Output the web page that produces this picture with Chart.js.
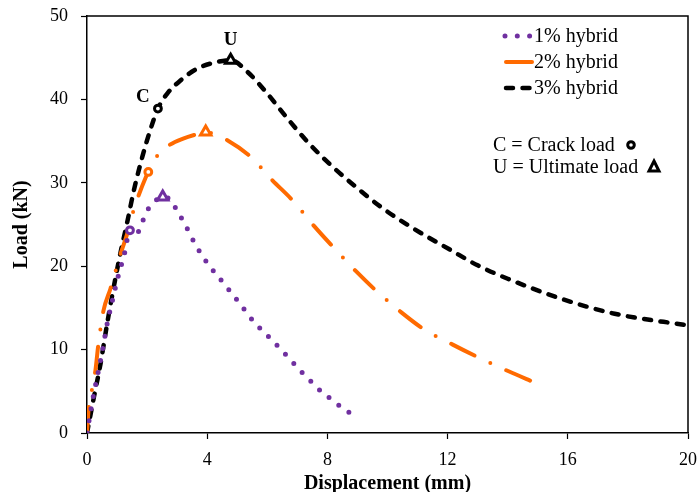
<!DOCTYPE html>
<html>
<head>
<meta charset="utf-8">
<script src="https://cdn.jsdelivr.net/npm/chart.js@4.4.1/dist/chart.umd.min.js"></script>
<style>
  body { margin: 0; background: #fff; }
  #wrap { width: 700px; height: 492px; }
</style>
</head>
<body>
<div id="wrap"><canvas id="mycanvas" width="700" height="492"></canvas></div>
<script>
// load - displacement curves
var disp1 = [0, 0.06, 0.2, 0.36, 0.52, 0.66, 0.84, 1.03, 1.24, 1.43, 1.6, 1.79, 1.94, 2.15, 2.52, 2.8, 3.0, 3.22, 3.59, 4.04, 4.56, 5.07, 5.56, 6.14, 6.69, 7.25, 7.54, 7.84, 8.15, 8.5, 8.85];
var load1 = [0, 1.3, 4.2, 7.1, 10.0, 12.9, 15.8, 18.7, 21.4, 24.3, 23.6, 24.8, 26.2, 27.4, 28.3, 27.9, 26.6, 25.3, 22.7, 20.2, 17.9, 15.6, 13.3, 11.2, 9.1, 6.9, 5.9, 4.8, 4.0, 3.0, 2.2];

var disp2 = [0, 0.06, 0.17, 0.28, 0.38, 0.55, 0.78, 1.12, 1.34, 1.55, 1.72, 1.95, 2.04, 2.37, 2.73, 3.2, 3.73, 3.95, 4.3, 4.67, 5.45, 6.17, 6.84, 7.56, 8.19, 8.95, 9.64, 10.45, 11.23, 12.17, 13.06, 14.03, 14.93];
var load2 = [0, 3.1, 5.3, 7.5, 10.7, 14.7, 17.3, 21.5, 23.9, 26.7, 28.5, 30.6, 31.3, 33.4, 34.5, 35.3, 35.9, 36.1, 35.7, 35.1, 33.1, 30.3, 27.9, 24.8, 22.3, 19.4, 17.0, 14.5, 12.4, 10.6, 9.0, 7.4, 6.0];

var disp3 = [0, 0.23, 0.45, 0.67, 0.89, 1.12, 1.34, 1.56, 1.84, 2.12, 2.36, 2.67, 3.12, 3.67, 4.34, 4.78, 5.34, 6.0, 6.56, 7.34, 8.12, 8.95, 9.78, 10.78, 12.12, 13.0, 14.0, 15.78, 17.56, 20.0];
var load3 = [0, 4.3, 8.3, 13.1, 17.5, 21.7, 25.3, 29.1, 33.1, 36.5, 38.9, 40.7, 42.3, 43.7, 44.5, 44.7, 43.3, 40.7, 38.2, 34.9, 32.1, 29.5, 27.1, 24.7, 21.9, 20.1, 18.5, 16.1, 14.3, 12.9];

// crack (C) and ultimate (U) points for 1%, 2%, 3%
var crackDisp = [1.43, 2.04, 2.36];
var crackLoad = [24.3, 31.3, 38.9];
var ultDisp = [2.52, 3.95, 4.78];
var ultLoad = [28.3, 36.1, 44.7];

var seriesNames = ["1% hybrid", "2% hybrid", "3% hybrid"];
var seriesColors = ["#7030A0", "#FF6A00", "#000000"];

var xTicks = [0, 4, 8, 12, 16, 20];
var yTicks = [0, 10, 20, 30, 40, 50];

function pts(xs, ys) {
  var out = [];
  for (var i in xs) out.push({x: xs[i], y: ys[i]});
  return out;
}

var serif = "'Liberation Serif', 'Times New Roman', serif";

var dashes = [[0, 12.3], [26, 17.5, 0, 17.5], [7, 9.5]];
var widths = [5, 4, 4.5];

var frame = {
  id: 'frame',
  afterDraw: function(chart) {
    var ctx = chart.ctx, a = chart.chartArea;
    var xs = chart.scales.x, ys = chart.scales.y;
    ctx.save();
    // top and right border
    ctx.strokeStyle = '#000';
    ctx.lineWidth = 1.5;
    ctx.beginPath();
    ctx.moveTo(a.left, a.top);
    ctx.lineTo(a.right, a.top);
    ctx.lineTo(a.right, a.bottom);
    ctx.stroke();

    // C / U labels next to the 3% markers
    ctx.fillStyle = '#000';
    ctx.font = "bold 19px " + serif;
    ctx.textAlign = 'center';
    ctx.textBaseline = 'middle';
    ctx.fillText("C", xs.getPixelForValue(crackDisp[2]) - 15, ys.getPixelForValue(crackLoad[2]) - 11);
    ctx.fillText("U", xs.getPixelForValue(ultDisp[2]), ys.getPixelForValue(ultLoad[2]) - 20);

    // legend
    ctx.font = "20px " + serif;
    ctx.textAlign = 'left';
    var ly = [36, 62, 88];
    for (var i = 0; i < 3; i++) {
      ctx.strokeStyle = seriesColors[i];
      ctx.lineWidth = widths[i];
      ctx.lineCap = 'round';
      ctx.setLineDash(i == 1 ? [] : dashes[i]);
      ctx.beginPath();
      if (i == 0) { ctx.moveTo(505, ly[i]); ctx.lineTo(531, ly[i]); }
      else if (i == 1) { ctx.moveTo(506, ly[i]); ctx.lineTo(532, ly[i]); }
      else { ctx.moveTo(506, ly[i]); ctx.lineTo(533, ly[i]); }
      ctx.stroke();
      ctx.setLineDash([]);
      ctx.fillStyle = '#000';
      ctx.fillText(seriesNames[i], 534, ly[i] + 1);
    }
    ctx.fillText("C = Crack load", 493, 146);
    ctx.fillText("U = Ultimate load", 493, 168);
    // key markers
    ctx.lineWidth = 3;
    ctx.strokeStyle = '#000';
    ctx.fillStyle = '#fff';
    ctx.beginPath();
    ctx.arc(631, 145, 3.3, 0, Math.PI * 2);
    ctx.fill(); ctx.stroke();
    ctx.beginPath();
    ctx.moveTo(654, 161); ctx.lineTo(659, 171); ctx.lineTo(649, 171); ctx.closePath();
    ctx.fill(); ctx.stroke();
    ctx.restore();
  }
};

var datasets = [];
for (var s = 0; s < 3; s++) {
  var dx = [disp1, disp2, disp3][s], dy = [load1, load2, load3][s];
  datasets.push({
    label: seriesNames[s],
    data: pts(dx, dy),
    showLine: true,
    borderColor: seriesColors[s],
    borderWidth: widths[s],
    borderDash: dashes[s],
    borderCapStyle: 'round',
    borderJoinStyle: 'round',
    cubicInterpolationMode: 'monotone',
    pointRadius: 0,
    fill: false,
    order: 2
  });
}
for (var s = 0; s < 3; s++) {
  datasets.push({
    label: 'crack ' + s,
    data: [{x: crackDisp[s], y: crackLoad[s]}],
    showLine: false,
    pointStyle: 'circle',
    pointRadius: 3.4,
    pointBorderWidth: 3,
    pointBorderColor: seriesColors[s],
    pointBackgroundColor: '#fff',
    order: 1
  });
  datasets.push({
    label: 'ultimate ' + s,
    data: [{x: ultDisp[s], y: ultLoad[s]}],
    showLine: false,
    pointStyle: 'triangle',
    pointRadius: 6,
    pointBorderWidth: 3,
    pointBorderColor: seriesColors[s],
    pointBackgroundColor: '#fff',
    order: 1
  });
}

function noPad(scale) {
  scale.paddingTop = 0; scale.paddingBottom = 0;
  scale.paddingLeft = 0; scale.paddingRight = 0;
}

var ctx = document.getElementById('mycanvas');
var chart = new Chart(ctx, {
  type: 'scatter',
  data: { datasets: datasets },
  plugins: [frame],
  options: {
    responsive: false,
    animation: false,
    layout: { padding: { left: 0, top: 16, right: 12, bottom: 0 } },
    plugins: { legend: { display: false }, tooltip: { enabled: false } },
    scales: {
      x: {
        type: 'linear',
        min: 0, max: 20,
        afterFit: function(scale) { scale.height = 59; noPad(scale); },
        afterBuildTicks: function(scale) { scale.ticks = xTicks.map(function(v) { return {value: v}; }); },
        ticks: { color: '#000', padding: 10, font: { family: serif, size: 18 } },
        grid: { display: true, drawOnChartArea: false, drawTicks: true, tickLength: 6, tickColor: '#000', tickWidth: 1.2 },
        border: { display: true, color: '#000', width: 1.5 },
        title: { display: true, text: 'Displacement (mm)', color: '#000', padding: { top: 0, bottom: -2 },
                 font: { family: serif, size: 20, weight: 'bold', lineHeight: 1 } }
      },
      y: {
        type: 'linear',
        min: 0, max: 50,
        afterFit: function(scale) { scale.width = 87; noPad(scale); },
        afterBuildTicks: function(scale) { scale.ticks = yTicks.map(function(v) { return {value: v}; }); },
        ticks: { color: '#000', padding: 13, font: { family: serif, size: 18 } },
        grid: { display: true, drawOnChartArea: false, drawTicks: true, tickLength: 6, tickColor: '#000', tickWidth: 1.2 },
        border: { display: true, color: '#000', width: 1.5 },
        title: { display: true, text: 'Load (kN)', color: '#000', padding: { top: 10, bottom: 0 },
                 font: { family: serif, size: 20, weight: 'bold' } }
      }
    }
  }
});
</script>
</body>
</html>
